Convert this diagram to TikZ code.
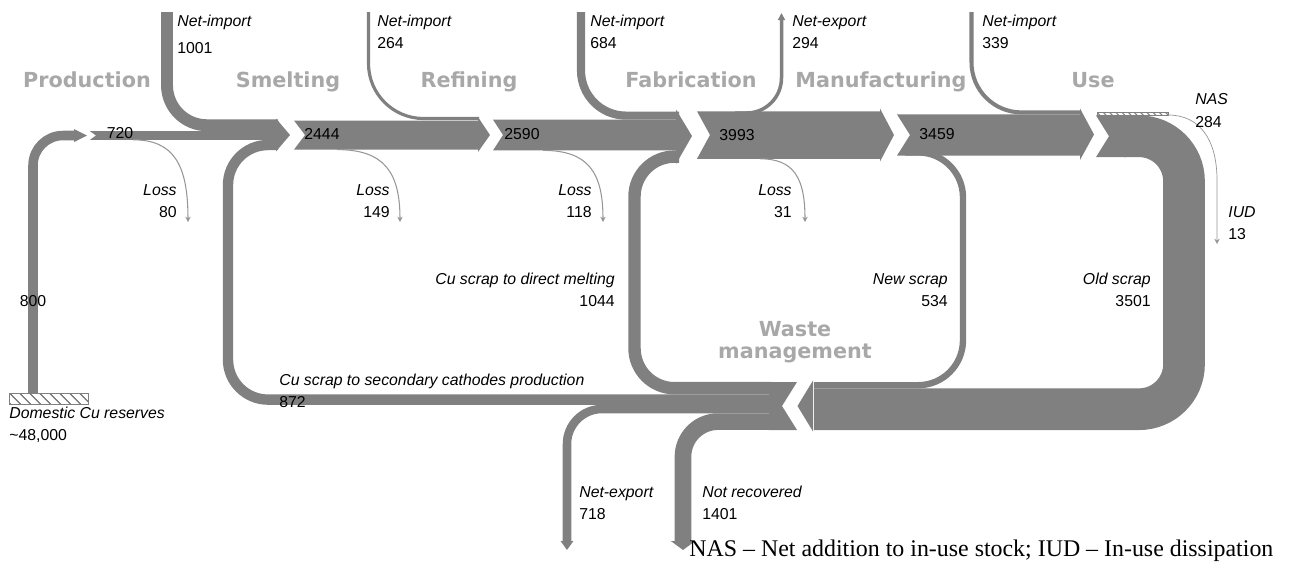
\documentclass[tikz,border=0pt]{standalone}
\usepackage{fontspec}
\setmainfont{Liberation Sans}
\newfontfamily\stagefont{DejaVu Sans}
\newfontfamily\notefont{Liberation Serif}
\usetikzlibrary{arrows.meta,patterns.meta,positioning}
\definecolor{flowgray}{RGB}{128,128,128}
\definecolor{stagegray}{RGB}{168,168,168}
\definecolor{lossgray}{RGB}{150,150,150}
\def\px{0.569pt}

\begin{document}
\begin{tikzpicture}[x=0.02cm,y=-0.02cm,
		flow/.style={draw=flowgray,line width=#1/84*\px},
		]
			\tikzstyle{stage}=[font=\stagefont\bfseries\fontsize{11.8}{14}\selectfont,text=stagegray,inner sep=0pt,anchor=base]
			\tikzstyle{lbl}=[font=\fontsize{9}{10}\selectfont\itshape,inner sep=0pt,text height=6.8pt,text depth=1.8pt]
			\tikzstyle{num}=[font=\fontsize{9}{10}\selectfont,inner sep=0pt,text height=6.8pt,text depth=1.8pt]
			\tikzstyle{loss}=[draw=lossgray,line width=0.6pt,-{Stealth[length=3pt,width=3pt]}]
			\tikzstyle{chevron}=[fill=flowgray]
			\tikzstyle{hatch}=[draw=flowgray,line width=0.5pt,pattern={Lines[angle=-45,distance=4pt,line width=0.8pt]},pattern color=flowgray]
			\useasboundingbox (0,0) rectangle (1289,562);
			% into smelting
			\draw[flow=800,rounded corners=30*\px] (33,393) |- (77,135.5);
			\fill[chevron] (74,129) -- (87,135.5) -- (74,142) -- cycle;
			\fill[chevron] (90,131.2) -- (278,131.2) -- (278,139.8) -- (90,139.8) -- (96,135.5) -- cycle;
			\draw[flow=1001,rounded corners=40*\px] (167,12) |- (278,125.25);
			\draw[flow=872,rounded corners=40*\px] (771,399.6) -| (228,145) -- (278,145);
			\fill[chevron] (276,118.5) -- (290,135) -- (276,151.5) -- cycle;
			% smelting, refining
			\fill[chevron] (294,120.5) -- (478,120.5) -- (478,117) -- (490,135) -- (478,152) -- (478,149.6) -- (294,149.6) -- (305,135) -- cycle;
			\draw[flow=264,rounded corners=55*\px] (368.5,12) |- (479,118.5);
			\fill[chevron] (493,119.6) -- (678,119.6) -- (678,150.4) -- (493,150.4) -- (503,135) -- cycle;
			\draw[flow=684,rounded corners=45*\px] (581,12) |- (679,115.6);
			\draw[flow=1044,rounded corners=40*\px] (771,388.2) -| (634.5,156.6) -- (679,156.6);
			\fill[chevron] (676,109.5) -- (692,136) -- (676,164) -- cycle;
			% fabrication, manufacturing
			\fill[chevron] (697,111.25) -- (880,111.25) -- (880,108.5) -- (894,135) -- (880,161.5) -- (880,158.75) -- (697,158.75) -- (710,135) -- cycle;
			\draw[flow=294,rounded corners=35*\px,-{Triangle[length=4pt,width=0pt 2]}] (735,113) -| (781.5,13);
			\fill[chevron] (897,114.4) -- (1080,114.4) -- (1080,108.5) -- (1094,134.5) -- (1080,160) -- (1080,155.6) -- (897,155.6) -- (910,135) -- cycle;
			\draw[flow=339,rounded corners=50*\px] (971.5,12) |- (1081,112.4);
			\draw[flow=534,rounded corners=45*\px] (905,152.4) -| (963,385.2) -- (814,385.2);
			% use
			\fill[chevron] (1096,115.4) -- (1126,115.4) -- (1126,157.1) -- (1096,157.1) -- (1109,136.25) -- cycle;
			\draw[flow=3501,rounded corners=45*\px] (1124,136.25) -| (1184,409.2) -- (814,409.2);
			\draw[hatch,pattern={Lines[angle=-45,distance=2.5pt,line width=0.6pt]}] (1097,112) rectangle (1168,115.4);
			% waste management
			\fill[chevron] (813,380.5) -- (797.5,406) -- (813,431.5) -- cycle;
			\fill[chevron] (769,382) -- (797,382) -- (782,406) -- (797,430) -- (769,430) -- cycle;
			\draw[flow=718,rounded corners=35*\px,-{Triangle[length=5pt,width=0pt 1.4]}] (771,409) -| (567,550);
			\draw[flow=1401,rounded corners=35*\px,-{Triangle[length=5pt,width=0pt 1.4]}] (771,421.6) -| (683,550);
			\draw[hatch] (9,393) rectangle (88,404);
			% losses
			\draw[loss] (133,139.8) .. controls (174,139.8) and (188,165) .. (188,222);
			\draw[loss] (337,149.6) .. controls (384,149.6) and (400,172) .. (400,222);
			\draw[loss] (543,150.4) .. controls (588,150.4) and (603,172) .. (603,222);
			\draw[loss] (760,158.8) .. controls (794,158.8) and (805,178) .. (805,222);
			\draw[loss,line width=0.4pt] (1168,115) .. controls (1200,115) and (1217,140) .. (1217,180) -- (1217,244);
			% stages
			\node[stage] (prod) at (87,87.5) {Production};
			\node[stage] (smelt) at (288,87.5) {Smelting};
			\node[stage] (refin) at (469,87.5) {Refining};
			\node[stage] (fabr) at (691,87.5) {Fabrication};
			\node[stage] (manuf) at (881,87.5) {Manufacturing};
			\node[stage] (use) at (1093,87.5) {Use};
			\node[stage] (waste) at (795,336) {Waste};
			\node[stage] (wastemgmt) at (795,358) {management};
			% numbers in bands
			\node[num] (v720) at (120,134) {720};
			\node[num] (v2444) at (322,135) {2444};
			\node[num] (v2590) at (522,135) {2590};
			\node[num] (v3993) at (737,136) {3993};
			\node[num] (v3459) at (937,135) {3459};
			\node[num] (v800) at (33,302) {800};
			% labels
			\node[lbl,anchor=west] (imp1) at (177,22) {Net-import};
			\node[num,below=6.2pt of imp1.south west,anchor=north west] (v1001) {1001};
			\node[lbl,anchor=west] (imp2) at (377,22) {Net-import};
			\node[num,below=3.4pt of imp2.south west,anchor=north west] (v264) {264};
			\node[lbl,anchor=west] (imp3) at (590,22) {Net-import};
			\node[num,below=3.4pt of imp3.south west,anchor=north west] (v684) {684};
			\node[lbl,anchor=west] (exp1) at (792,22) {Net-export};
			\node[num,below=3.4pt of exp1.south west,anchor=north west] (v294) {294};
			\node[lbl,anchor=west] (imp4) at (982,22) {Net-import};
			\node[num,below=3.4pt of imp4.south west,anchor=north west] (v339) {339};
			\node[lbl,anchor=west] (nas) at (1195,100) {NAS};
			\node[num,below=4pt of nas.south west,anchor=north west] (v284) {284};
			\node[lbl,anchor=west] (iud) at (1228,213) {IUD};
			\node[num,below=3.4pt of iud.south west,anchor=north west] (v13) {13};
			\node[lbl,anchor=east] (loss1) at (177,191) {Loss};
			\node[num,below=3.4pt of loss1.south east,anchor=north east] (v80) {80};
			\node[lbl,anchor=east] (loss2) at (390,191) {Loss};
			\node[num,below=3.4pt of loss2.south east,anchor=north east] (v149) {149};
			\node[lbl,anchor=east] (loss3) at (592,191) {Loss};
			\node[num,below=3.4pt of loss3.south east,anchor=north east] (v118) {118};
			\node[lbl,anchor=east] (loss4) at (792,191) {Loss};
			\node[num,below=3.4pt of loss4.south east,anchor=north east] (v31) {31};
			\node[lbl,anchor=east] (melt) at (615,280) {Cu scrap to direct melting};
			\node[num,below=3.4pt of melt.south east,anchor=north east] (v1044) {1044};
			\node[lbl,anchor=east] (newscr) at (948,280) {New scrap};
			\node[num,below=3.4pt of newscr.south east,anchor=north east] (v534) {534};
			\node[lbl,anchor=east] (oldscr) at (1151,280) {Old scrap};
			\node[num,below=3.4pt of oldscr.south east,anchor=north east] (v3501) {3501};
			\node[lbl,anchor=west] (second) at (279,381) {Cu scrap to secondary cathodes production};
			\node[num,below=3.4pt of second.south west,anchor=north west] (v872) {872};
			\node[lbl,anchor=west] (reserve) at (9,414) {Domestic Cu reserves};
			\node[num,below=3.4pt of reserve.south west,anchor=north west] (v48k) {\textasciitilde48,000};
			\node[lbl,anchor=west] (exp2) at (579,493) {Net-export};
			\node[num,below=3.4pt of exp2.south west,anchor=north west] (v718) {718};
			\node[lbl,anchor=west] (notrec) at (702,493) {Not recovered};
			\node[num,below=3.4pt of notrec.south west,anchor=north west] (v1401) {1401};
			\node[font=\notefont\fontsize{13.6}{16}\selectfont,anchor=west,inner sep=0pt] (note) at (689,551) {NAS – Net addition to in-use stock; IUD – In-use dissipation};
		\end{tikzpicture}
\end{document}
